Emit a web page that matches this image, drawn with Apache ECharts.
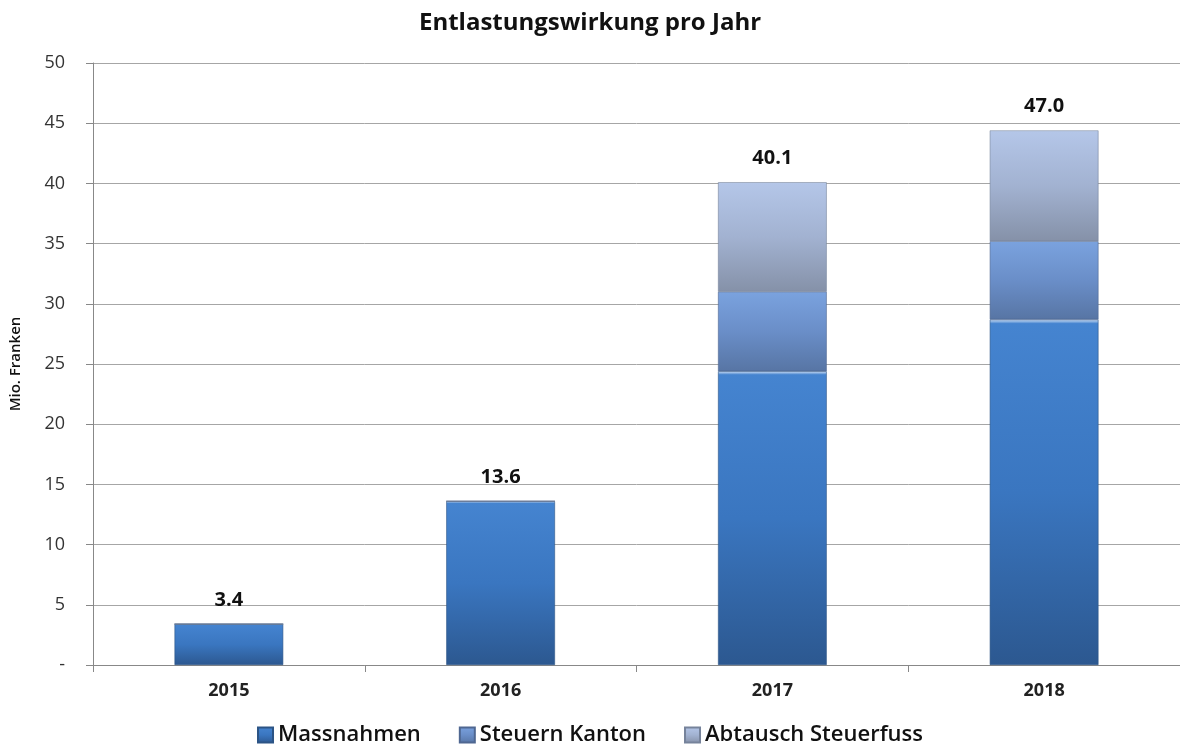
<!DOCTYPE html>
<html>
<head>
<meta charset="utf-8">
<script src="https://cdn.jsdelivr.net/npm/echarts@6/dist/echarts.min.js"></script>
<style>
    html, body { margin: 0; padding: 0; background: #fff; }
    #chart { width: 1180px; height: 753px; }
</style>
</head>
<body>
<div id="chart"></div>
<script>
    // Daten
    const years = ['2015', '2016', '2017', '2018']
    const massnahmen = [3.4, 13.6, 24.4, 28.7]
    const steuernKanton = [0, 0, 6.6, 6.5]
    const abtausch = [0, 0, 9.1, 9.2]
    const totalLabels = ['3.4', '13.6', '40.1', '47.0']

    function grad(top, mid, bottom) {
        return new echarts.graphic.LinearGradient(0, 0, 0, 1, [
            { offset: 0, color: '#d6e4f6' },
            { offset: 0.012, color: top },
            { offset: 0.5, color: mid },
            { offset: 1, color: bottom },
        ])
    }

    let font = '"Open Sans", "Noto Sans", sans-serif'
    let option = {
        animation: false,
        title: {
            text: 'Entlastungswirkung pro Jahr',
            left: 'center',
            top: 6,
            textStyle: { fontFamily: font, fontSize: 24, fontWeight: 'bold', color: '#111' },
        },
        legend: {
            data: ['Massnahmen', 'Steuern Kanton', 'Abtausch Steuerfuss'],
            bottom: 2,
            left: 'center',
            icon: 'rect',
            itemWidth: 15,
            itemHeight: 15,
            itemGap: 38,
            textStyle: { fontFamily: font, fontSize: 22, fontWeight: 600, color: '#111' },
        },
        grid: { left: 93, right: 0, top: 63, bottom: 88 },
        xAxis: {
            type: 'category',
            data: years,
            axisLine: { lineStyle: { color: '#888' } },
            axisTick: { show: true, length: 7, lineStyle: { color: '#888' } },
            axisLabel: { fontFamily: font, fontSize: 18, fontWeight: 'bold', color: '#222', margin: 17 },
        },
        yAxis: {
            type: 'value',
            min: 0,
            max: 50,
            interval: 5,
            name: 'Mio. Franken',
            nameLocation: 'middle',
            nameRotate: 90,
            nameGap: 70,
            nameTextStyle: { fontFamily: font, fontSize: 15, fontWeight: 600, color: '#111' },
            axisLine: { show: true, lineStyle: { color: '#888' } },
            axisTick: { show: true, length: 7, lineStyle: { color: '#888' } },
            axisLabel: {
                fontFamily: font, fontSize: 18, color: '#333', margin: 28,
                formatter: v => (v === 0 ? '-' : v),
            },
            splitLine: { lineStyle: { color: '#a6a6a6', width: 1 } },
        },
        series: [
            {
                name: 'Massnahmen',
                type: 'bar',
                stack: 'total',
                barWidth: '40%',
                data: massnahmen,
                itemStyle: { color: grad('#4584d0', '#3a76c0', '#2c5890'), borderColor: '#2c5485', borderWidth: 0.6 },
            },
            {
                name: 'Steuern Kanton',
                type: 'bar',
                stack: 'total',
                data: steuernKanton,
                itemStyle: { color: grad('#7aa2de', '#6a8ec8', '#5775a4'), borderColor: '#4f6791', borderWidth: 0.6 },
            },
            {
                name: 'Abtausch Steuerfuss',
                type: 'bar',
                stack: 'total',
                data: abtausch,
                itemStyle: { color: grad('#b4c6e8', '#a2b2d1', '#8591a8'), borderColor: '#76839b', borderWidth: 0.6 },
            },
            {
                name: 'Total',
                type: 'bar',
                stack: 'total',
                data: years.map(() => 0),
                itemStyle: { color: 'transparent' },
                label: {
                    show: true,
                    position: 'top',
                    distance: 14,
                    fontFamily: font,
                    fontSize: 20,
                    fontWeight: 'bold',
                    color: '#111',
                    formatter: p => totalLabels[p.dataIndex],
                },
            },
        ],
    }

    let myChart = echarts.init(document.getElementById('chart'))
    myChart.setOption(option)
</script>
</body>
</html>
